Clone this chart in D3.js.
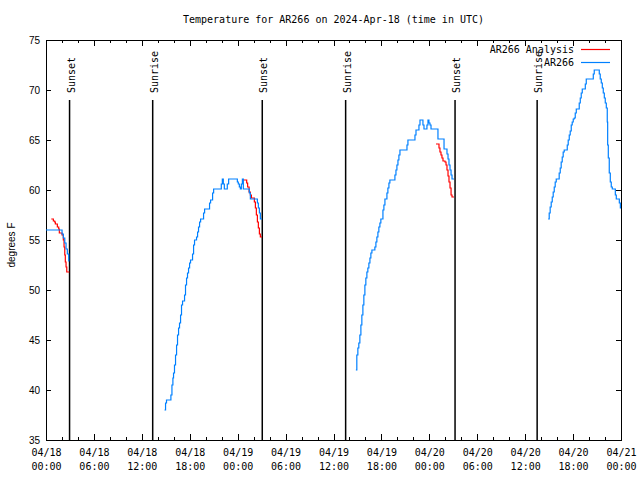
<!DOCTYPE html>
<html>
<head>
<meta charset="utf-8">
<script src="https://cdn.jsdelivr.net/npm/d3@7"></script>
<style>
  html, body { margin: 0; padding: 0; background: #fff; }
  svg { display: block; }
  .mono { font-family: "DejaVu Sans Mono", "Liberation Mono", monospace; font-size: 10px; fill: #000; }
  .sans { font-family: "Liberation Sans", Arial, sans-serif; font-size: 10px; fill: #000; }
</style>
</head>
<body>
<svg id="chart" width="640" height="480"></svg>
<script>
// ---------------- DATA (hours since 2024-04-18 00:00 UTC, degrees F) ----------------
const titleText = "Temperature for AR266 on 2024-Apr-18 (time in UTC)";
const yLabelText = "degrees F";
const seriesNames = ["AR266 Analysis", "AR266"];
const yTickValues = [35, 40, 45, 50, 55, 60, 65, 70, 75];

const sunsetHours = [2.95, 27.08, 51.22];
const sunriseHours = [13.36, 37.52, 61.50];

// observed AR266 (blue)
const obsDay1 = [[0.00,56.0],[2.01,55.6],[2.17,55.2],[2.35,54.7],[2.51,54.1],[2.67,53.6],[2.85,52.9],[2.92,52.9]];
const obsDay2 = [[14.84,38.0],[14.97,38.7],[15.09,39.0],[15.64,39.5],[15.77,40.5],[15.89,41.2],[15.97,41.7],[16.09,42.5],
  [16.22,43.5],[16.35,44.5],[16.47,45.5],[16.60,46.2],[16.72,46.7],[16.85,47.5],[16.97,48.5],[17.10,48.9],[17.35,49.5],
  [17.47,50.5],[17.60,51.2],[17.72,51.7],[17.85,52.2],[17.98,52.7],[18.10,53.0],[18.35,53.6],[18.48,54.5],[18.60,55.0],
  [18.85,55.3],[18.98,55.8],[19.10,56.3],[19.23,56.8],[19.36,57.1],[19.73,57.7],[19.86,58.1],[20.48,58.7],[20.61,59.0],
  [20.86,59.7],[20.99,60.1],[21.95,60.6],[22.08,61.1],[22.20,60.6],[22.33,60.1],[22.70,60.6],[22.87,61.1],[23.96,60.8],
  [24.08,60.6],[24.21,60.3],[24.34,60.1],[24.46,60.6],[24.59,61.1],[24.71,60.1],[25.46,59.7],[25.59,59.1],[26.47,58.7],
  [26.59,58.2],[26.72,57.7],[26.84,57.1],[27.06,57.1]];
const obsDay3 = [[38.80,42.0],[38.92,43.5],[39.05,44.2],[39.17,44.7],[39.30,45.5],[39.43,46.5],[39.55,47.5],[39.68,48.5],
  [39.80,49.5],[39.93,50.5],[40.05,51.2],[40.18,51.8],[40.30,52.2],[40.43,52.7],[40.56,53.2],[40.68,53.7],[40.81,54.0],
  [41.18,54.3],[41.31,54.8],[41.43,55.3],[41.56,55.8],[41.68,56.3],[41.81,56.7],[41.93,57.1],[42.19,58.0],[42.31,58.5],
  [42.44,59.1],[42.69,59.7],[42.81,60.2],[42.94,60.7],[43.06,61.0],[43.69,61.5],[43.82,62.0],[43.94,62.5],[44.07,63.0],
  [44.19,63.5],[44.32,64.0],[45.20,64.5],[45.32,65.0],[46.20,65.5],[46.33,66.0],[46.70,66.5],[46.83,67.0],[47.20,66.5],
  [47.33,66.1],[47.70,66.5],[47.83,67.0],[47.95,66.7],[48.08,66.5],[48.21,66.1],[49.08,65.1],[49.84,64.1],[50.21,63.6],
  [50.34,63.1],[50.46,62.5],[50.59,62.0],[50.72,61.5],[50.84,61.1],[51.09,61.1]];
const obsDay4 = [[62.88,57.1],[63.01,57.7],[63.13,58.3],[63.26,58.8],[63.39,59.3],[63.51,59.8],[63.64,60.3],[63.76,60.8],
  [63.89,61.1],[64.26,61.7],[64.39,62.2],[64.51,62.8],[64.64,63.3],[64.76,63.8],[64.89,64.0],[65.27,64.5],[65.39,65.0],
  [65.52,65.5],[65.64,65.9],[65.77,66.5],[65.89,66.8],[66.02,67.1],[66.15,67.2],[66.27,67.7],[66.40,68.1],[66.77,68.7],
  [66.90,69.2],[67.02,69.7],[67.15,70.1],[67.53,70.6],[67.65,71.1],[68.53,71.6],[68.65,72.0],[69.28,71.6],[69.40,71.1],
  [69.53,70.7],[69.66,70.2],[69.78,69.7],[69.91,69.2],[70.03,68.7],[70.16,68.2],[70.28,66.8],[70.33,64.5],[70.41,63.2],
  [70.53,61.7],[70.66,60.8],[70.78,60.3],[70.91,60.1],[71.29,59.5],[71.41,59.1],[71.79,58.7],[71.92,58.2],[72.00,58.2]];

// analysis AR266 (red)
const anaDay1 = [[0.66,57.1],[0.92,56.9],[1.09,56.8],[1.17,56.6],[1.42,56.3],[1.59,56.1],[1.67,55.7],[2.01,55.5],[2.17,55.0],
  [2.26,54.3],[2.35,53.5],[2.42,52.8],[2.51,52.3],[2.60,51.8],[2.92,51.8]];
const anaDay2 = [[24.67,61.0],[25.13,60.7],[25.25,60.3],[25.43,59.8],[25.59,59.5],[25.72,59.2],[26.09,58.8],[26.22,58.2],
  [26.34,57.5],[26.47,56.8],[26.59,56.2],[26.72,55.6],[26.84,55.3],[27.06,55.3]];
const anaDay3 = [[48.83,64.6],[49.21,64.2],[49.33,63.8],[49.46,63.5],[49.58,63.2],[49.71,62.9],[49.96,62.8],[50.09,62.5],
  [50.21,62.0],[50.34,61.4],[50.46,60.8],[50.59,60.2],[50.72,59.5],[50.84,59.3],[51.09,59.3]];

const obsSegments = [obsDay1, obsDay2, obsDay3, obsDay4];
const anaSegments = [anaDay1, anaDay2, anaDay3];

// ---------------- DRAWING ----------------
const t0 = Date.UTC(2024, 3, 18);
const toDate = h => new Date(t0 + h * 3600000);

const pL = 46, pR = 621, pT = 40, pB = 440;
const svg = d3.select("#chart");

const x = d3.scaleUtc().domain([toDate(0), toDate(72)]).range([pL, pR]);
const y = d3.scaleLinear().domain([35, 75]).range([pB, pT]);

const majorTicks = d3.utcHour.every(6).range(toDate(0), toDate(72.01));
const minorTicks = d3.utcHour.every(2).range(toDate(0), toDate(72.01));

// x axis bottom (inward ticks)
const xb = svg.append("g").attr("transform", `translate(0,${pB})`)
  .call(d3.axisBottom(x).tickValues(minorTicks).tickSizeInner(-3).tickSizeOuter(0).tickFormat(""));
xb.select(".domain").remove();
const xbM = svg.append("g").attr("transform", `translate(0,${pB})`)
  .call(d3.axisBottom(x).tickValues(majorTicks).tickSizeInner(-6).tickSizeOuter(0).tickPadding(9)
    .tickFormat(d3.utcFormat("%m/%d")));
xbM.select(".domain").remove();
xbM.selectAll("text").attr("class", "mono").attr("font-family", null).attr("font-size", null)
  .each(function(d) {
    const t = d3.select(this);
    t.text(null);
    t.append("tspan").attr("x", 0).text(d3.utcFormat("%m/%d")(d));
    t.append("tspan").attr("x", 0).attr("dy", "1.4em").text(d3.utcFormat("%H:%M")(d));
  });

// x axis top mirror
const xt = svg.append("g").attr("transform", `translate(0,${pT})`)
  .call(d3.axisTop(x).tickValues(minorTicks).tickSizeInner(-3).tickSizeOuter(0).tickFormat(""));
xt.select(".domain").remove();
const xtM = svg.append("g").attr("transform", `translate(0,${pT})`)
  .call(d3.axisTop(x).tickValues(majorTicks).tickSizeInner(-6).tickSizeOuter(0).tickFormat(""));
xtM.select(".domain").remove();

// y axis left
const yl = svg.append("g").attr("transform", `translate(${pL},0)`)
  .call(d3.axisLeft(y).tickValues(yTickValues).tickSizeInner(-5).tickSizeOuter(0).tickPadding(6));
yl.select(".domain").remove();
yl.selectAll("text").attr("class", "sans").attr("font-family", null).attr("font-size", null);
// y axis right mirror
const yr = svg.append("g").attr("transform", `translate(${pR},0)`)
  .call(d3.axisRight(y).tickValues(yTickValues).tickSizeInner(-5).tickSizeOuter(0).tickFormat(""));
yr.select(".domain").remove();

svg.selectAll(".tick line").attr("stroke", "#000").attr("shape-rendering", "crispEdges");

// border
svg.append("rect").attr("x", pL).attr("y", pT).attr("width", pR - pL).attr("height", pB - pT)
  .attr("fill", "none").attr("stroke", "#000").attr("stroke-width", 1).attr("shape-rendering", "crispEdges");

// sunrise / sunset lines
const sunEvents = sunsetHours.map(h => ({h, label: "Sunset"}))
  .concat(sunriseHours.map(h => ({h, label: "Sunrise"})));
const sunTop = y(75) + 0.15 * (y(35) - y(75));
svg.selectAll(".sunline").data(sunEvents).join("line")
  .attr("x1", d => x(toDate(d.h))).attr("x2", d => x(toDate(d.h)))
  .attr("y1", pB).attr("y2", sunTop)
  .attr("stroke", "#000").attr("stroke-width", 1.5);
svg.selectAll(".sunlabel").data(sunEvents).join("text")
  .attr("class", "mono")
  .attr("transform", d => `translate(${x(toDate(d.h)) + 1.5},${sunTop - 7}) rotate(-90)`)
  .attr("dy", "0.35em")
  .text(d => d.label);

// data lines
const line = d3.line().x(d => x(toDate(d[0]))).y(d => y(d[1])).curve(d3.curveStepAfter);
svg.selectAll(".ana").data(anaSegments).join("path")
  .attr("d", line).attr("fill", "none").attr("stroke", "#ff0000").attr("stroke-width", 1.2);
svg.selectAll(".obs").data(obsSegments).join("path")
  .attr("d", line).attr("fill", "none").attr("stroke", "#0080ff").attr("stroke-width", 1.2);

// legend
const legendColors = ["#ff0000", "#0080ff"];
const lg = svg.append("g");
seriesNames.forEach((name, i) => {
  const ly = 49.5 + i * 13;
  lg.append("text").attr("class", "mono").attr("x", 574).attr("y", ly).attr("dy", "0.35em")
    .attr("text-anchor", "end").text(name);
  lg.append("line").attr("x1", 581).attr("x2", 610).attr("y1", ly).attr("y2", ly)
    .attr("stroke", legendColors[i]).attr("stroke-width", 1.2);
});

// title
svg.append("text").attr("class", "mono").attr("x", (pL + pR) / 2).attr("y", 23)
  .attr("text-anchor", "middle").text(titleText);

// y label
svg.append("text").attr("class", "sans")
  .attr("transform", `translate(11,${(pT + pB) / 2 + 5}) rotate(-90)`)
  .attr("dy", "0.35em").attr("text-anchor", "middle").text(yLabelText);
</script>
</body>
</html>
